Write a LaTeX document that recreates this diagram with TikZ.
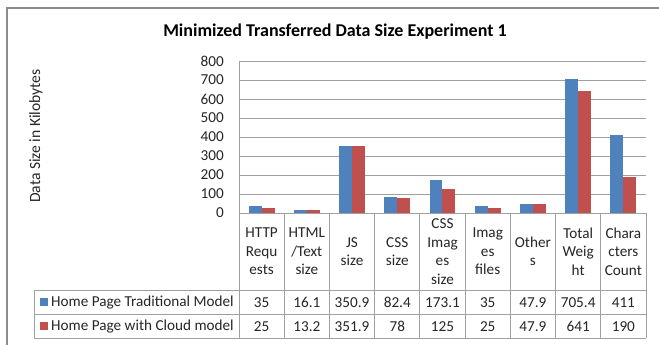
\documentclass[tikz,border=0pt]{standalone}
\usepackage{fontspec}
\setmainfont{Carlito}
\definecolor{sblue}{HTML}{4F81BD}
\definecolor{sred}{HTML}{C0504D}
\definecolor{gridc}{HTML}{A0A0A0}
\definecolor{framec}{HTML}{8C8C8C}
\begin{document}
\begin{tikzpicture}[x=1pt,y=-1pt,
  grid/.style={draw=gridc,line width=0.9pt},
  lbl/.style={font=\fontsize{15.2}{18.5}\selectfont,inner sep=0pt,align=center,text=black!85},
  ]
\useasboundingbox (0,0) rectangle (659,345);
\fill[white] (0,0) rectangle (659,345);
% outer frame
\draw[framec,line width=1.3pt] (7,346) -- (7,8) -- (660,8);
% title
\node[font=\fontsize{18}{21}\selectfont\bfseries,inner sep=0pt] (title) at (335,32) {Minimized Transferred Data Size Experiment 1};
% y label
\node[lbl,font=\fontsize{15.6}{18}\selectfont,rotate=90] (ylab) at (36,136) {Data Size in Kilobytes};
% gridlines and tick labels
\foreach \v in {0,100,...,800}{
  \pgfmathsetmacro{\yy}{213-\v*0.19}
  \draw[grid] (239,\yy) -- (646,\yy);
  \node[lbl,anchor=east] (t\v) at (224,\yy) {\v};
}
% bars
\def\W{45.22}
\foreach \i/\a/\b in {0/35/25,1/16.1/13.2,2/350.9/351.9,3/82.4/78,4/173.1/125,5/35/25,6/47.9/47.9,7/705.4/641,8/411/190}{
  \pgfmathsetmacro{\xl}{239+\i*\W}
  \fill[sblue] (\xl+9.7,213) rectangle (\xl+22.6,213-\a*0.19);
  \fill[sred] (\xl+22.6,213) rectangle (\xl+35.5,213-\b*0.19);
}
% table lines
\draw[grid] (239,61) -- (239,338);
\foreach \i in {1,...,9}{
  \pgfmathsetmacro{\xl}{239+\i*\W}
  \draw[grid] (\xl,213) -- (\xl,338);
}
\draw[grid] (34,290) -- (646,290);
\draw[grid] (34,314.5) -- (646,314.5);
\draw[grid] (34,338) -- (646,338);
\draw[grid] (34,290) -- (34,338);
% category labels
\foreach \i/\t in {0/{HTTP\\Requ\\ests},1/{HTML\\/Text\\size},2/{JS\\size},3/{CSS\\size},4/{CSS\\Imag\\es\\size},5/{Imag\\es\\files},6/{Other\\s},7/{Total\\Weig\\ht},8/{Chara\\cters\\Count}}{
  \pgfmathsetmacro{\xc}{239+(\i+0.5)*\W}
  \node[lbl] (c\i) at (\xc,251.5) {\t};
}
% legend rows
\fill[sblue] (40,298) rectangle (48,306);
\fill[sred] (40,322) rectangle (48,330);
\node[lbl,anchor=west] (leg1) at (51,302.5) {Home Page Traditional Model};
\node[lbl,anchor=west] (leg2) at (51,326.5) {Home Page with Cloud model};
% values
\foreach \i/\a/\b in {0/35/25,1/16.1/13.2,2/350.9/351.9,3/82.4/78,4/173.1/125,5/35/25,6/47.9/47.9,7/705.4/641,8/411/190}{
  \pgfmathsetmacro{\xc}{239+(\i+0.5)*\W}
  \node[lbl] (va\i) at (\xc,302.5) {\a};
  \node[lbl] (vb\i) at (\xc,326.5) {\b};
}
\end{tikzpicture}
\end{document}
